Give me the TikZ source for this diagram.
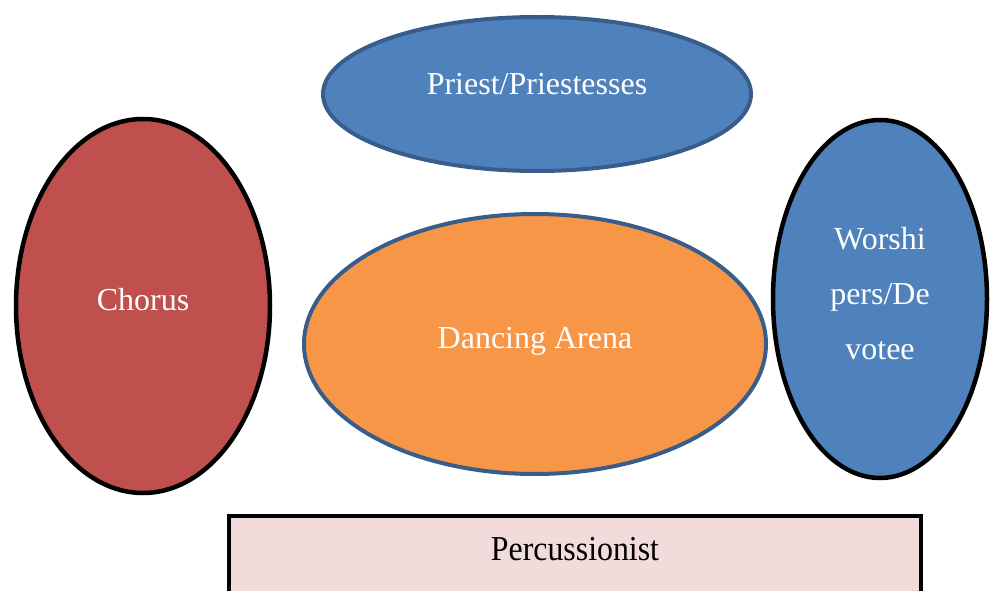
\documentclass[tikz,border=0pt]{standalone}
\usepackage{fontspec}
\setmainfont{Liberation Serif}
\newfontfamily\narrowserif[FakeStretch=0.91]{Liberation Serif}
\usetikzlibrary{shapes.geometric}

\definecolor{accentblue}{HTML}{4F81BD}
\definecolor{darkblue}{HTML}{385D8A}
\definecolor{accentred}{HTML}{C0504D}
\definecolor{accentorange}{HTML}{F79646}
\definecolor{palepink}{HTML}{F2DCDB}

\tikzset{
  oval/.style={ellipse, inner sep=0pt},
  blueedge/.style={draw=darkblue, line width=4pt},
  blackedge/.style={draw=black, line width=4.5pt},
  whitetext/.style={text=white, inner sep=0pt, font=\fontsize{32}{55}\selectfont},
  blacktext/.style={text=black, inner sep=0pt, font=\narrowserif\fontsize{35}{42}\selectfont},
}

\begin{document}
\begin{tikzpicture}[x=1pt, y=-1pt]
  \useasboundingbox (0,0) rectangle (991,591);

  % Shapes
  \node[oval, blueedge, fill=accentblue, minimum width=428pt, minimum height=154pt] (priest) at (537,94) {};
  \node[oval, blackedge, fill=accentred, minimum width=254pt, minimum height=374pt] (chorus) at (143,306) {};
  \node[oval, blueedge, fill=accentorange, minimum width=462pt, minimum height=260pt] (arena) at (535,344) {};
  \node[oval, blackedge, fill=accentblue, minimum width=214pt, minimum height=358pt] (worship) at (880,299) {};
  \draw[blackedge, fill=palepink] (229,516) rectangle (921,597);
  \coordinate (perc) at (575,560);

  % Labels
  \node[whitetext, anchor=base] (priest-text) at ([yshift=-1pt]priest.center) {Priest/Priestesses};
  \node[whitetext, anchor=base] (chorus-text) at ([yshift=-4pt]chorus.center) {Chorus};
  \node[whitetext, anchor=base] (arena-text) at ([yshift=-4pt]arena.center) {Dancing Arena};
  \node[whitetext, align=center] (worship-text) at ([yshift=5pt]worship.center) {Worshi\\pers/De\\votee};
  \node[blacktext, anchor=base] (perc-text) at (perc) {Percussionist};
\end{tikzpicture}
\end{document}
